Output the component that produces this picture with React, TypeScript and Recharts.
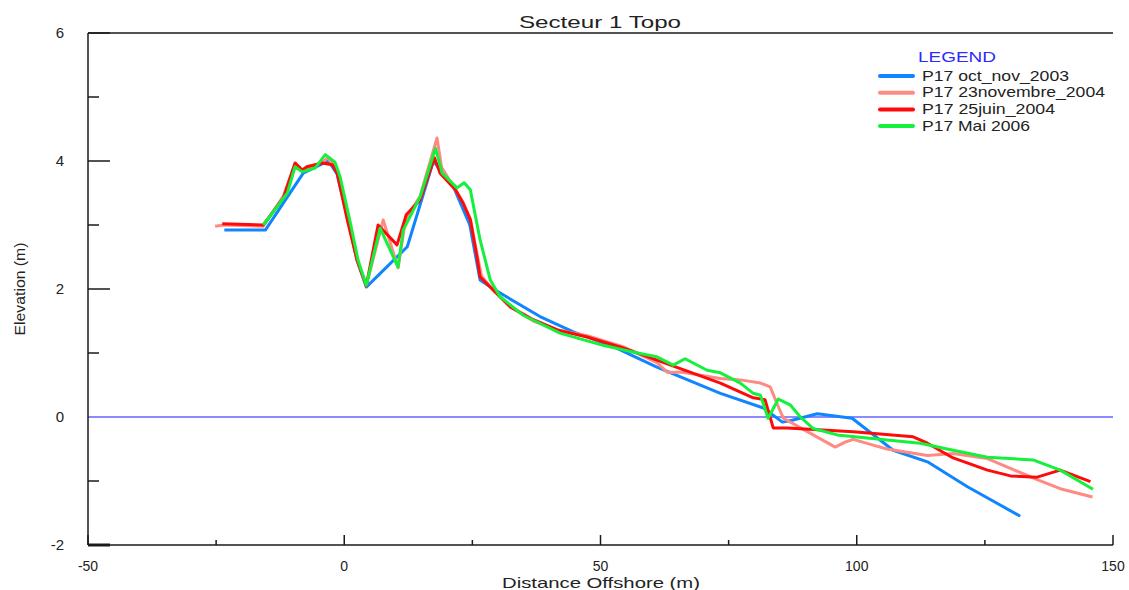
import React from 'react';
import { LineChart, Line, XAxis, YAxis, ReferenceLine, Legend } from 'recharts';

type Pt = { x: number; y: number };
const toPts = (rows: number[][]): Pt[] => rows.map(([x, y]) => ({ x, y }));

// distance offshore (m), elevation (m)
const octNov2003 = toPts([
  [-23.4, 2.92], [-15.4, 2.92], [-8, 3.81], [-3.1, 4.0], [-1.4, 3.8], [1, 3.0], [2.5, 2.45],
  [4.3, 2.03], [12.3, 2.66], [17.4, 4.0], [21.3, 3.6], [24.5, 3.0], [26.5, 2.14], [29.5, 1.98],
  [38.2, 1.57], [44.7, 1.33], [52.5, 1.1], [61, 0.78], [73.4, 0.37], [81.8, 0.14], [85.5, -0.08],
  [87.4, -0.05], [92.3, 0.05], [99.1, -0.02], [107.1, -0.52], [113.8, -0.7], [121.6, -1.09],
  [131.9, -1.55],
]);

const nov2004 = toPts([
  [-25.2, 2.98], [-23.5, 3.0], [-15.8, 2.98], [-11.9, 3.45], [-9.8, 3.9], [-8.2, 3.85],
  [-4.3, 3.98], [-3.2, 4.05], [-1.4, 3.85], [0.6, 3.1], [2.5, 2.45], [4.3, 2.05], [7.6, 3.08],
  [10.5, 2.33], [12, 3.1], [14.8, 3.45], [18.1, 4.36], [19, 3.9], [21.7, 3.55], [23.2, 3.35],
  [24.6, 3.1], [25.9, 2.55], [26.8, 2.2], [29.1, 1.98], [32.4, 1.72], [36.9, 1.5], [41.6, 1.36],
  [47.4, 1.27], [54.4, 1.1], [61, 0.85], [63, 0.7], [66, 0.7], [73.4, 0.6], [77.3, 0.58],
  [81.2, 0.53], [83.1, 0.47], [84.7, 0.16], [85.7, -0.02], [91.5, -0.28], [95.8, -0.47],
  [97.8, -0.39], [99.3, -0.35], [103.2, -0.44], [105.9, -0.5], [113.8, -0.6], [118.8, -0.57],
  [125.5, -0.65], [135.2, -0.98], [139.7, -1.12], [146, -1.25],
]);

const juin2004 = toPts([
  [-23.8, 3.02], [-15.8, 3.0], [-11.9, 3.42], [-9.6, 3.97], [-8.2, 3.86], [-7.3, 3.91],
  [-4.3, 3.97], [-2.3, 3.94], [-1.4, 3.81], [0.6, 3.08], [2.5, 2.45], [4.3, 2.05], [6.6, 3.0],
  [10.3, 2.69], [12.1, 3.16], [14.8, 3.39], [17.6, 4.05], [18.7, 3.81], [21.7, 3.55],
  [23.2, 3.34], [24.6, 3.08], [25.9, 2.5], [26.5, 2.19], [29.1, 1.98], [32.4, 1.72],
  [36.9, 1.52], [41.6, 1.36], [47.4, 1.25], [54.4, 1.08], [61, 0.89], [73.4, 0.53],
  [79.8, 0.3], [82.1, 0.27], [83.7, -0.17], [86.4, -0.17], [99.3, -0.23], [111, -0.31],
  [113.8, -0.41], [118.8, -0.64], [125.5, -0.83], [130, -0.92], [135.2, -0.94], [139.7, -0.83],
  [145.6, -1.01],
]);

const mai2006 = toPts([
  [-15.8, 3.0], [-11.1, 3.5], [-9.6, 3.91], [-8.2, 3.83], [-5.7, 3.89], [-3.7, 4.1],
  [-1.8, 3.98], [-0.8, 3.75], [1.2, 3.03], [2.7, 2.45], [4.3, 2.06], [7.0, 2.95], [10.5, 2.34],
  [11.5, 2.92], [14.8, 3.44], [17.8, 4.2], [19.1, 3.81], [22, 3.58], [23.4, 3.66], [24.6, 3.55],
  [26.5, 2.77], [28.5, 2.14], [30.4, 1.88], [34.9, 1.59], [42.1, 1.31], [50.5, 1.12],
  [57.2, 1.0], [61, 0.94], [64.2, 0.81], [66.5, 0.91], [70.8, 0.73], [73.4, 0.69], [77.3, 0.53],
  [79.8, 0.37], [81.2, 0.34], [82.7, -0.02], [84.7, 0.28], [87, 0.19], [89, 0], [91.5, -0.18],
  [96.2, -0.28], [105.9, -0.36], [112.4, -0.41], [118.8, -0.52], [125.5, -0.63], [134.4, -0.67],
  [139.7, -0.83], [146.1, -1.13],
]);

const seriesData = [octNov2003, nov2004, juin2004, mai2006];
const seriesNames = ['P17 oct_nov_2003', 'P17 23novembre_2004', 'P17 25juin_2004', 'P17 Mai 2006'];
const seriesColors = ['#1085ff', '#ff8a84', '#ff0a0a', '#14f03c'];
const legendTextWidths = [147, 183, 133, 108];

const xTicks = [-50, -25, 0, 25, 50, 75, 100, 125, 150];
const yTicks = [-2, -1, 0, 1, 2, 3, 4, 5, 6];

const FONT = '"Liberation Sans", Arial, sans-serif';
const AXIS = '#1a1a1a';

const YTick = (props: any) => {
  const { x, y, payload } = props;
  const v = payload.value;
  const major = v % 2 === 0;
  return (
    <g>
      {v !== 0 && (
        <line x1={x} x2={x + (major ? 22 : 11)} y1={y} y2={y} stroke={AXIS} strokeWidth={v === -2 ? 3 : 1.5} />
      )}
      {major && (
        <text x={x - 24} y={y + 5} textAnchor="end" fontSize={15} fontFamily={FONT} fill="#222">
          {v}
        </text>
      )}
    </g>
  );
};

const XTick = (props: any) => {
  const { x, y, payload } = props;
  const v = payload.value;
  const major = v % 50 === 0;
  return (
    <g>
      <line x1={x} x2={x} y1={y} y2={y - (major ? 10 : 5)} stroke={AXIS} strokeWidth={1.5} />
      {major && (
        <text x={x} y={y + 26} textAnchor="middle" fontSize={14} fontFamily={FONT} fill="#222">
          {v}
        </text>
      )}
    </g>
  );
};

const TitleLabel = () => (
  <text x={600} y={28} textAnchor="middle" fontSize={17} fontFamily={FONT} fill="#222"
    textLength={162} lengthAdjust="spacingAndGlyphs">
    Secteur 1 Topo
  </text>
);

const XTitle = () => (
  <text x={601} y={588} textAnchor="middle" fontSize={15} fontFamily={FONT} fill="#222"
    textLength={198} lengthAdjust="spacingAndGlyphs">
    Distance Offshore (m)
  </text>
);

const YTitle = () => (
  <text x={19} y={289} transform="rotate(-90, 19, 289)" textAnchor="middle" dominantBaseline="central"
    fontSize={15} fontFamily={FONT} fill="#222" textLength={93} lengthAdjust="spacingAndGlyphs">
    Elevation (m)
  </text>
);

const renderLegend = () => (
  <svg width={245} height={90} style={{ display: 'block' }}>
    <text x={48} y={17} fontSize={15} fontFamily={FONT} fill="#2b2bff" textLength={78} lengthAdjust="spacingAndGlyphs">
      LEGEND
    </text>
    {seriesNames.map((name, i) => {
      const cy = 30 + i * 16.7;
      return (
        <g key={name}>
          <line x1={10} x2={43} y1={cy + 1} y2={cy + 1} stroke={seriesColors[i]} strokeWidth={4} strokeLinecap="round" />
          <text x={52} y={cy + 5.5} fontSize={15} fontFamily={FONT} fill="#222"
            textLength={legendTextWidths[i]} lengthAdjust="spacingAndGlyphs">
            {name}
          </text>
        </g>
      );
    })}
  </svg>
);

export default function App() {
  return (
    <div style={{ position: 'absolute', left: 0, top: 0, background: '#fff' }}>
      <LineChart width={1129} height={590} margin={{ top: 0, right: 16, bottom: 0, left: 0 }}>
        <XAxis
          dataKey="x"
          type="number"
          domain={[-50, 150]}
          ticks={xTicks}
          allowDataOverflow
          height={45}
          tickSize={0}
          tickMargin={0}
          tickLine={false}
          tick={<XTick />}
          axisLine={{ stroke: AXIS, strokeWidth: 1.5 }}
          label={<XTitle />}
        />
        <XAxis
          xAxisId="top"
          orientation="top"
          type="number"
          domain={[-50, 150]}
          height={33}
          tick={false}
          tickLine={false}
          axisLine={{ stroke: AXIS, strokeWidth: 1.5 }}
          label={<TitleLabel />}
        />
        <YAxis
          type="number"
          domain={[-2, 6]}
          ticks={yTicks}
          allowDataOverflow
          width={88}
          tickSize={0}
          tickMargin={0}
          tickLine={false}
          tick={<YTick />}
          axisLine={{ stroke: AXIS, strokeWidth: 1.5 }}
          label={<YTitle />}
        />
        <YAxis
          yAxisId="right"
          orientation="right"
          type="number"
          domain={[-2, 6]}
          width={0}
          tick={false}
          tickLine={false}
          axisLine={{ stroke: AXIS, strokeWidth: 1.5 }}
        />
        <ReferenceLine y={0} stroke="#6464ff" strokeWidth={1.5} />
        {seriesData.map((d, i) => (
          <Line
            key={seriesNames[i]}
            data={d}
            dataKey="y"
            name={seriesNames[i]}
            type="linear"
            stroke={seriesColors[i]}
            strokeWidth={3}
            strokeLinejoin="round"
            dot={false}
            activeDot={false}
            isAnimationActive={false}
          />
        ))}
        <Legend
          layout="horizontal"
          align="center"
          verticalAlign="middle"
          content={renderLegend}
          wrapperStyle={{ left: 870, top: 45, width: 245, height: 90 }}
        />
      </LineChart>
    </div>
  );
}
